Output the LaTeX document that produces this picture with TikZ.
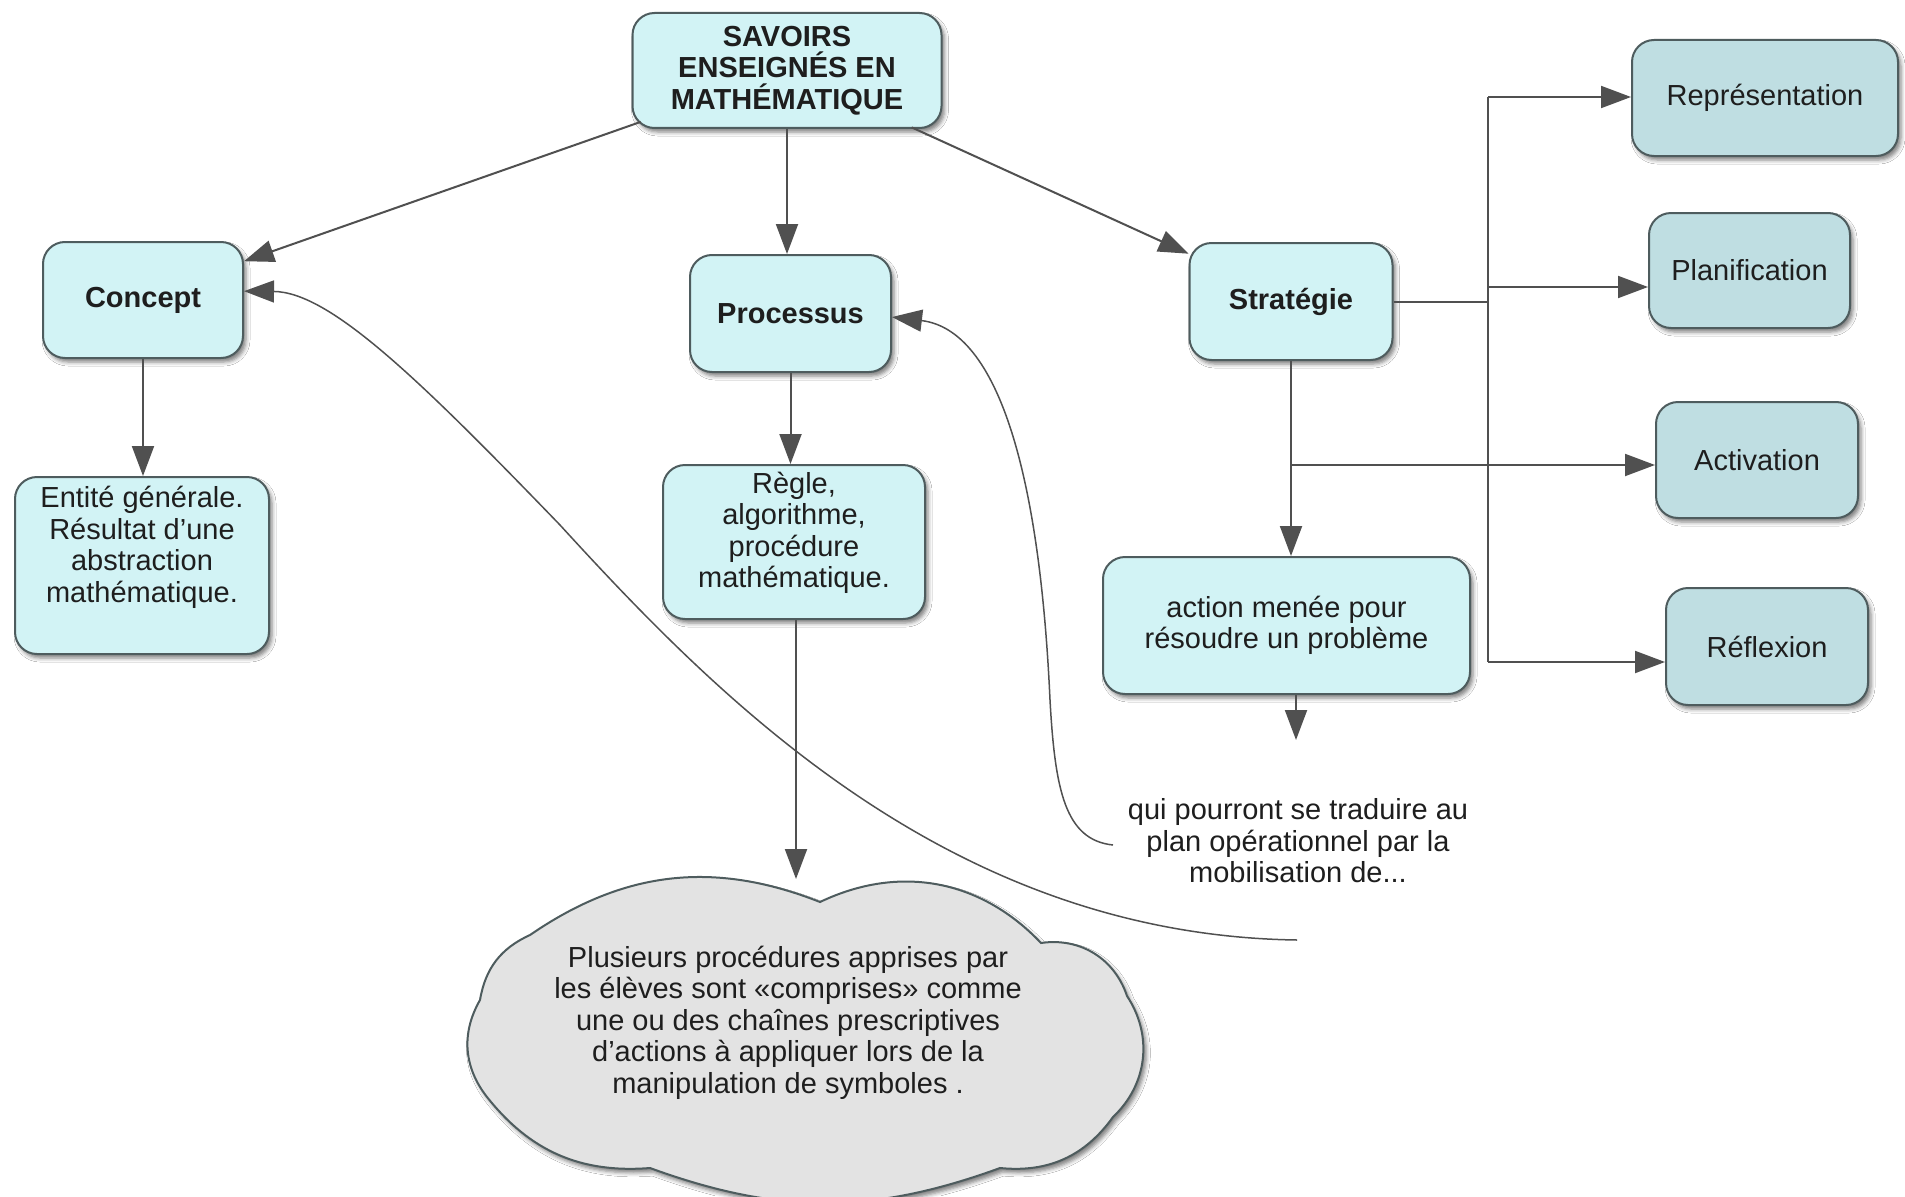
\documentclass[tikz,border=0pt]{standalone}
\usepackage{fontspec}
\setmainfont{Liberation Sans}
\usetikzlibrary{arrows.meta,shadows.blur,calc}

\definecolor{boxfill}{HTML}{D2F3F5}
\definecolor{sidefill}{HTML}{BFDEE2}
\definecolor{edge}{HTML}{4E5C5E}
\definecolor{ink}{HTML}{1E1E1E}
\definecolor{wire}{HTML}{505050}
\definecolor{cloudfill}{HTML}{E3E3E3}

% raise a block of centred lines without changing the size it claims
\newcommand{\liftlines}[2]{\raisebox{#1}[\height][\depth]{\begin{tabular}{@{}c@{}}#2\end{tabular}}}

\begin{document}
\begin{tikzpicture}[x=1pt,y=-1pt,
  txt/.style={font=\fontsize{29}{31.5}\selectfont, text=ink, align=center},
  boldtxt/.style={font=\fontsize{29}{31.5}\selectfont\bfseries, text=ink, align=center},
  box/.style={txt, rectangle, rounded corners=22pt, draw=edge, line width=2pt,
    fill=boxfill, inner sep=0pt,
    blur shadow={shadow xshift=3pt, shadow yshift=-4pt, shadow blur radius=4pt, shadow opacity=50}},
  side/.style={box, fill=sidefill},
  wire/.style={draw=wire, line width=2pt},
  wirearrow/.style={wire, -{Triangle[length=30pt,width=22pt]}},
  curvearrow/.style={draw=wire, line width=1.5pt, -{Triangle[length=30pt,width=22pt]}},
  cloudline/.style={draw=edge, line width=2pt, fill=cloudfill,
    blur shadow={shadow xshift=3pt, shadow yshift=-4pt, shadow blur radius=4pt, shadow opacity=50}}
]
\useasboundingbox[fill=white] (0,0) rectangle (1905,1196);

% ---------- concept boxes ----------
\node[box, boldtxt, minimum width=309pt, minimum height=115pt] (savoirs) at (787,70.5)
  {SAVOIRS\\ENSEIGNÉS EN\\MATHÉMATIQUE};
\node[box, boldtxt, minimum width=200pt, minimum height=116pt] (concept) at (143,300) {Concept};
\node[box, minimum width=254pt, minimum height=177pt] (entite) at (142,565.5)
  {\liftlines{17pt}{Entité générale.\\Résultat d’une\\abstraction\\mathématique.}};
\node[box, boldtxt, minimum width=201pt, minimum height=117pt] (processus) at (790.5,313.5) {Processus};
\node[box, minimum width=262pt, minimum height=154pt] (regle) at (794,542)
  {\liftlines{8pt}{Règle,\\algorithme,\\procédure\\mathématique.}};
\node[box, boldtxt, minimum width=203pt, minimum height=117pt] (strategie) at (1291,301.5) {Stratégie};
\node[box, minimum width=367pt, minimum height=137pt] (action) at (1286.5,625.5)
  {action menée pour\\résoudre un problème};

\node[side, minimum width=266pt, minimum height=116pt] (repr) at (1765,98) {Représentation};
\node[side, minimum width=201pt, minimum height=115pt] (plan) at (1749.5,270.5) {Planification};
\node[side, minimum width=202pt, minimum height=116pt] (activ) at (1757,460) {Activation};
\node[side, minimum width=202pt, minimum height=117pt] (reflex) at (1767,646.5) {Réflexion};

% ---------- free text ----------
\node[txt, inner sep=0pt] (qui) at (1298,841)
  {qui pourront se traduire au\\plan opérationnel par la\\mobilisation de...};

% ---------- cloud ----------
\draw[cloudline] (480,1000) to[bend left=28] (530,935) to[bend left=28] (820,902)
  to[bend left=36] (1041,943) to[bend left=40] (1127,996) to[bend left=40] (1113,1117)
  to[bend left=30] (1000,1168) to[bend left=20] (650,1168) to[bend left=28] (487,1097)
  to[bend left=34] cycle;
\node[txt, inner sep=0pt] (nuage) at (788,1022.5)
  {Plusieurs procédures apprises par\\les élèves sont «comprises» comme\\une ou des chaînes prescriptives\\d’actions à appliquer lors de la\\manipulation de symboles .};
\coordinate (cloudtip) at (796,879);

% ---------- connectors from the title ----------
% both leave the title box where the line from its centre crosses the border
\draw[wirearrow] ($(savoirs.center)!155pt!(concept.21)$) -- (concept.21);
\draw[wirearrow] ($(savoirs.center)!137pt!(strategie.155)$) -- (strategie.155);
\draw[wirearrow] (savoirs.south) -- (savoirs.south |- processus.north);

% ---------- vertical links ----------
\draw[wirearrow] (concept.south) -- (concept.south |- entite.north);
\draw[wirearrow] (processus.south) -- (processus.south |- regle.north);
\draw[wirearrow] (cloudtip |- regle.south) -- (cloudtip);
\draw[wirearrow] (strategie.south) -- (strategie.south |- action.north);
\coordinate (quiin) at (1296,740);
\draw[wirearrow] (quiin |- action.south) -- (quiin);

% ---------- branches of Stratégie ----------
\coordinate (tTop) at (1488,97);
\coordinate (tPlan) at (1488,287);
\coordinate (tAct) at (1488,465);
\coordinate (tBot) at (1488,662);
\draw[wire] (strategie.east) -- (strategie.east -| tTop);
\draw[wire] (tTop) -- (tBot);
\draw[wirearrow] (tTop) -- (tTop -| repr.west);
\draw[wirearrow] (tPlan) -- (tPlan -| plan.west);
\draw[wirearrow] (tBot) -- (tBot -| reflex.west);
\draw[wirearrow] (strategie.south |- tAct) -- (tAct -| activ.west);

% ---------- long curved links back from the text ----------
\coordinate (qend1) at (1297,940);
\coordinate (qend2) at (1113,845);
\draw[curvearrow] (qend1) .. controls (950,935) and (720,700) .. (560,525)
  .. controls (420,380) and (330,292) .. (concept.5);
\draw[curvearrow] (qend2) .. controls (1065,840) and (1055,790) .. (1050,700)
  .. controls (1040,480) and (1000,330) .. (processus.-2);
\end{tikzpicture}
\end{document}
